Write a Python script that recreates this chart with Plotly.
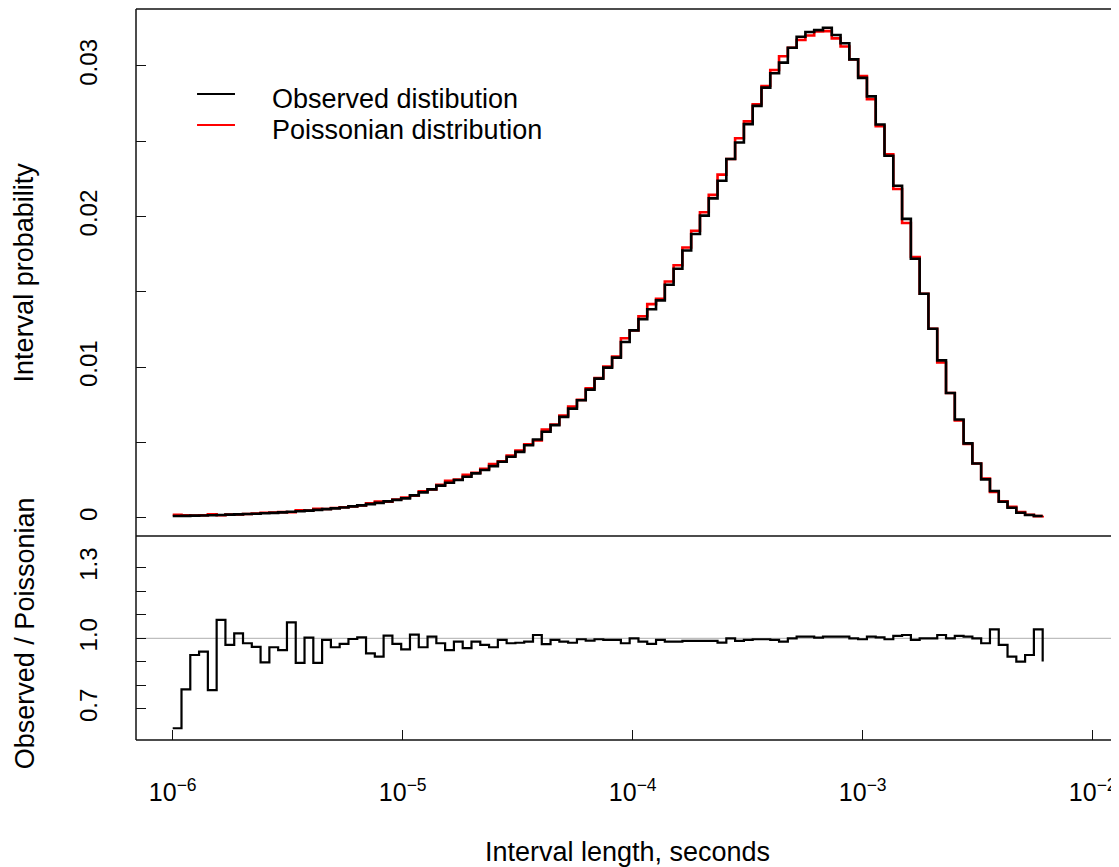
import numpy as np
import plotly.graph_objects as go

# histogram breaks: 100 log-spaced edges (99 bins) from 1 us up to ~6 ms
t_first = 1e-6
t_last = 6.06e-3
n_breaks = 100
breaks = np.logspace(np.log10(t_first), np.log10(t_last), n_breaks)

# observed interval probability per bin (units of 1e-4), last value is the trailing step point
observed_e4 = [
    1.3, 1.4, 1.55, 1.7, 1.85, 2.0, 2.2, 2.4, 2.6, 2.85,
    3.1, 3.4, 3.7, 4.1, 4.5, 4.9, 5.4, 5.9, 6.4, 7.0,
    7.7, 8.4, 9.2, 10.0, 11.0, 12.0, 13.0, 15.0, 17.0, 19.0,
    21.5, 23.4, 25.2, 27.4, 29.6, 31.8, 34.4, 37.3, 40.6, 43.9,
    48.3, 52.1, 57.2, 61.6, 67.1, 72.6, 78.1, 85.2, 92.5, 99.8,
    106.4, 116.8, 124.5, 132.0, 138.5, 144.4, 154.8, 165.4, 177.5, 188.5,
    200.7, 212.1, 223.8, 238.2, 249.2, 261.4, 273.5, 285.6, 295.2, 302.2,
    312.1, 319.4, 322.5, 323.8, 325.4, 320.5, 315.1, 304.4, 292.1, 279.8,
    261.1, 240.4, 220.5, 198.5, 172.0, 148.8, 125.6, 104.6, 83.0, 65.4,
    49.5, 36.2, 25.6, 17.9, 10.8, 6.8, 3.5, 2.0, 1.3, 1.3,
]

# observed / poissonian ratio per bin, last value is the trailing step point
ratio = [
    0.618, 0.783, 0.929, 0.943, 0.780, 1.078, 0.972, 1.021, 0.979, 0.964,
    0.898, 0.962, 0.950, 1.068, 0.896, 1.003, 0.896, 0.993, 0.962, 0.976,
    0.997, 1.004, 0.936, 0.922, 1.011, 0.976, 0.953, 1.016, 0.962, 1.007,
    0.979, 0.950, 0.986, 0.958, 0.986, 0.972, 0.962, 0.993, 0.979, 0.981,
    0.986, 1.014, 0.975, 0.993, 0.986, 0.981, 0.996, 0.990, 0.996, 0.993,
    0.993, 0.979, 1.000, 0.986, 0.976, 0.993, 0.986, 0.986, 0.989, 0.989,
    0.989, 0.989, 0.982, 1.000, 0.989, 0.993, 0.996, 0.996, 0.993, 0.986,
    1.000, 1.007, 1.007, 1.003, 1.007, 1.007, 1.007, 1.000, 0.996, 1.007,
    1.004, 0.996, 1.010, 1.014, 0.993, 1.000, 1.000, 1.014, 1.000, 1.010,
    1.007, 1.000, 0.979, 1.038, 0.972, 0.922, 0.901, 0.929, 1.038, 0.901,
]

x_ticks = [1e-6, 1e-5, 1e-4, 1e-3, 1e-2]
x_ticktext = ["10<sup>\u22126</sup>", "10<sup>\u22125</sup>", "10<sup>\u22124</sup>",
              "10<sup>\u22123</sup>", "10<sup>\u22122</sup>"]
p_ticks = [0, 0.005, 0.01, 0.015, 0.02, 0.025, 0.03]
p_ticktext = ["0", "", "0.01", "", "0.02", "", "0.03"]
r_ticks = [0.7, 0.8, 0.9, 1.0, 1.1, 1.2, 1.3]
r_ticktext = ["0.7", "", "", "1.0", "", "", "1.3"]

legend_names = ["Observed distibution", "Poissonian distribution"]
legend_colors = ["black", "#ff0000"]

observed = np.array(observed_e4) * 1e-4
poisson = observed / np.array(ratio)

FONT = "Liberation Sans, Arial, Helvetica, sans-serif"
split = 0.2791  # bottom panel height fraction

fig = go.Figure()
fig.add_trace(go.Scatter(x=breaks, y=poisson, mode="lines", line_shape="hv",
                         line=dict(color="#ff0000", width=2.6),
                         name=legend_names[1], showlegend=False))
fig.add_trace(go.Scatter(x=breaks, y=observed, mode="lines", line_shape="hv",
                         line=dict(color="black", width=2.6),
                         name=legend_names[0], showlegend=False))
fig.add_trace(go.Scatter(x=breaks, y=ratio, mode="lines", line_shape="hv",
                         line=dict(color="black", width=2.2),
                         yaxis="y2", showlegend=False))

border = dict(color="#111", width=1.5)
shapes = [
    dict(type="line", xref="paper", yref="paper", x0=0, x1=0, y0=0, y1=1, line=border),
    dict(type="line", xref="paper", yref="paper", x0=0, x1=1, y0=1, y1=1, line=border),
    dict(type="line", xref="paper", yref="paper", x0=0, x1=1, y0=split, y1=split, line=border),
    dict(type="line", xref="paper", yref="paper", x0=0, x1=1, y0=0, y1=0, line=border),
    dict(type="line", xref="paper", yref="y2", x0=0, x1=1, y0=1.0, y1=1.0,
         line=dict(color="#bebebe", width=1.2), layer="below"),
]

annotations = [
    dict(text="Interval probability", xref="paper", yref="paper",
         x=-0.113, y=(1 + split) / 2, textangle=-90, showarrow=False,
         xanchor="center", yanchor="middle", font=dict(size=27)),
    dict(text="Observed / Poissonian", xref="paper", yref="paper",
         x=-0.113, y=0.146, textangle=-90, showarrow=False,
         xanchor="center", yanchor="middle", font=dict(size=27)),
]

# legend drawn R-style: short line, gap, label
leg_y = [0.8837, 0.8413]
for name, col, ly in zip(legend_names, legend_colors, leg_y):
    shapes.append(dict(type="line", xref="paper", yref="paper",
                       x0=0.0621, x1=0.1007, y0=ly, y1=ly,
                       line=dict(color=col, width=2.2)))
    annotations.append(dict(text=name, xref="paper", yref="paper",
                            x=0.1363, y=ly - 0.007, xanchor="left", yanchor="middle",
                            showarrow=False, font=dict(size=27)))

fig.update_layout(
    width=1119, height=867,
    margin=dict(l=128, r=8, t=1, b=135),
    paper_bgcolor="white", plot_bgcolor="white",
    font=dict(family=FONT, size=24, color="black"),
    shapes=shapes,
    annotations=annotations,
    showlegend=False,
    xaxis=dict(type="log", range=[-6.1596, -1.8857], anchor="y2",
               tickvals=x_ticks, ticktext=x_ticktext,
               ticks="inside", ticklen=10, tickwidth=1.3, tickcolor="#111",
               showgrid=False, zeroline=False, showline=False,
               ticklabelstandoff=35, tickfont=dict(size=25),
               title=dict(text="Interval length, seconds", standoff=37,
                          font=dict(size=27))),
    yaxis=dict(domain=[split, 1], range=[-0.001194, 0.03378],
               tickvals=p_ticks, ticktext=p_ticktext, tickangle=-90,
               ticks="inside", ticklen=10, tickwidth=1.3, tickcolor="#111",
               showgrid=False, zeroline=False, showline=False,
               ticklabelstandoff=33),
    yaxis2=dict(domain=[0, split], range=[0.5682, 1.4344],
                tickvals=r_ticks, ticktext=r_ticktext, tickangle=-90,
                ticks="inside", ticklen=10, tickwidth=1.3, tickcolor="#111",
                showgrid=False, zeroline=False, showline=False,
                ticklabelstandoff=33),
)

fig.write_html("out.html")
